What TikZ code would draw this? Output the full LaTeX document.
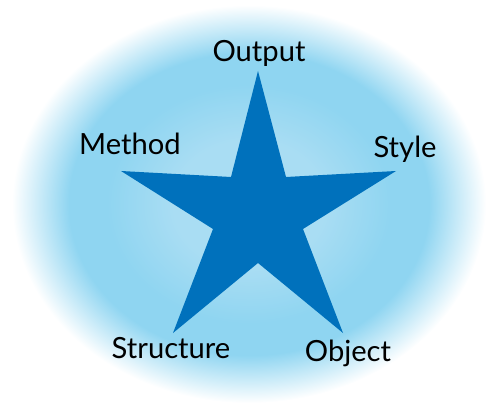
\documentclass[tikz,border=0pt]{standalone}
\usepackage{fontspec}
\setmainfont{Lato}
\definecolor{starblue}{HTML}{0071BC}
\definecolor{glowin}{HTML}{A9DDF3}
\definecolor{glowmid}{HTML}{8FD5F1}
\pgfdeclareradialshading{glow}{\pgfpoint{0bp}{0bp}}{color(0bp)=(glowin); color(8bp)=(glowin); color(15bp)=(glowmid); color(19bp)=(glowmid); color(25bp)=(white); color(50bp)=(white)}
\tikzset{
  lbl/.style={inner sep=0pt, anchor=base, font=\fontsize{16.6}{19}\selectfont},
}
\begin{document}
\begin{tikzpicture}[x=0.02cm,y=-0.02cm]
\useasboundingbox (0,0) rectangle (486,408);
\coordinate (c) at (249,204);
\shade[shading=glow] (c) ellipse [x radius=237, y radius=199];
% star points and inner corners
\coordinate (top) at (258,71);
\coordinate (ur) at (286,177);
\coordinate (right) at (396,171);
\coordinate (ir) at (303,229);
\coordinate (br) at (343,333);
\coordinate (ib) at (258,263);
\coordinate (bl) at (173,333);
\coordinate (il) at (213,229);
\coordinate (left) at (121,171);
\coordinate (ul) at (231,177);
\fill[starblue] (top)--(ur)--(right)--(ir)--(br)--(ib)--(bl)--(il)--(left)--(ul)--cycle;
% labels
\node[lbl] (output) at (259,62) {Output};
\node[lbl] (method) at (130,155) {Method};
\node[lbl] (style) at (405,158) {Style};
\node[lbl] (structure) at (171,358) {Structure};
\node[lbl] (object) at (348,361) {Object};
\end{tikzpicture}
\end{document}
